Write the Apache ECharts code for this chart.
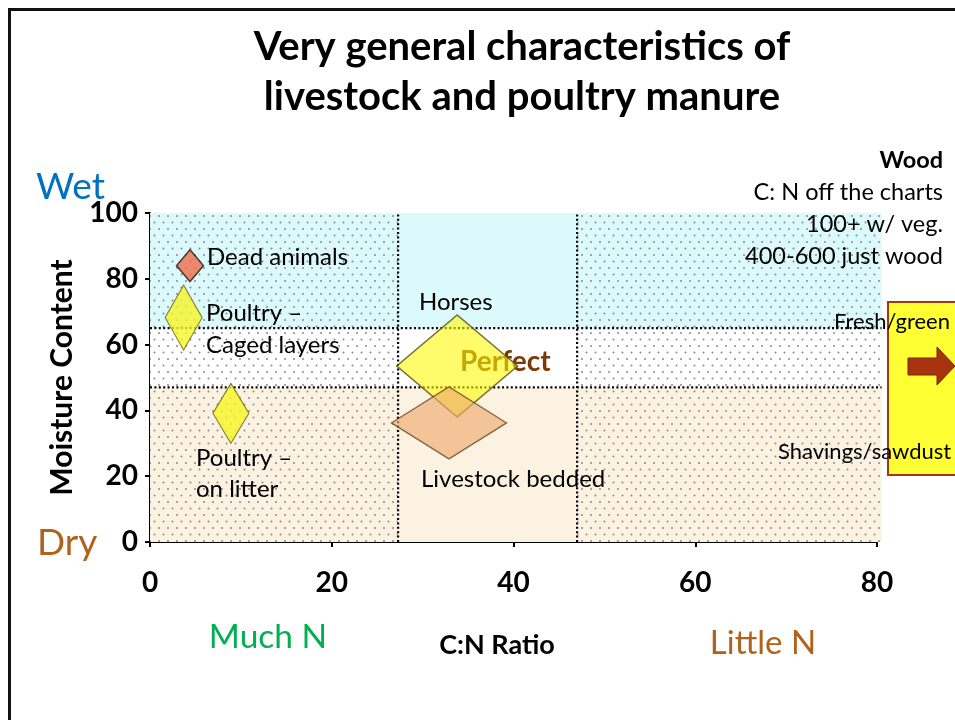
<!DOCTYPE html>
<html><head><meta charset="utf-8">
<script src="https://cdn.jsdelivr.net/npm/echarts@6/dist/echarts.min.js"></script>
<style>html,body{margin:0;padding:0;background:#fff}#c{width:955px;height:720px}</style>
</head><body><div id="c"></div>
<script>
// ---------- data ----------
const sources = ['Dead animals', 'Poultry – caged layers', 'Poultry – on litter', 'Horses', 'Livestock bedded'];
const cnRatio = [4.4, 3.7, 8.9, 33.8, 32.9];
const moisture = [84.0, 68.2, 39.1, 53.5, 36.2];
const xTicks = [0, 20, 40, 60, 80];
const yTicks = [0, 20, 40, 60, 80, 100];
const cnBreaks = [0, 27.3, 47, 80.5];
const moistureBreaks = [0, 47, 65, 100];

// ---------- styles ----------
const FONT = 'Lato';
const markerSizes = [[27, 32], [37, 65], [36, 60], [121, 102], [115, 72]];
const markerStyles = [
  { color: '#EF6B4A', borderColor: '#1a1a1a', borderWidth: 1.5 },
  { color: '#F7F526', borderColor: '#6b6a1c', borderWidth: 1.2 },
  { color: '#F7F526', borderColor: '#6b6a1c', borderWidth: 1.2 },
  { color: 'rgba(255,250,0,0.72)', borderColor: '#55541c', borderWidth: 1.5 },
  { color: 'rgba(237,170,110,0.8)', borderColor: '#6b4a2a', borderWidth: 1.5 }
];
const rowColors = ['#FCF2E1', '#FFFFFF', '#DCF9FC'];

function makePattern(bg) {
  const c = document.createElement('canvas');
  c.width = 9; c.height = 13;
  const g = c.getContext('2d');
  g.fillStyle = bg; g.fillRect(0, 0, 9, 13);
  g.fillStyle = '#8a8a8a';
  g.beginPath(); g.arc(1.5, 1.5, 1.0, 0, Math.PI * 2); g.fill();
  g.beginPath(); g.arc(6, 8, 1.0, 0, Math.PI * 2); g.fill();
  return c;
}
const patterns = rowColors.map(c => ({ image: makePattern(c), repeat: 'repeat' }));

// cells built from breaks
const cells = [];
for (let r = 0; r < moistureBreaks.length - 1; r++) {
  for (let c = 0; c < cnBreaks.length - 1; c++) {
    cells.push([cnBreaks[c], cnBreaks[c + 1], moistureBreaks[r], moistureBreaks[r + 1], r, c]);
  }
}
const divLines = [];
for (let i = 1; i < cnBreaks.length - 1; i++) divLines.push([cnBreaks[i], moistureBreaks[0], cnBreaks[i], moistureBreaks[moistureBreaks.length - 1]]);
for (let i = 1; i < moistureBreaks.length - 1; i++) divLines.push([cnBreaks[0], moistureBreaks[i], cnBreaks[cnBreaks.length - 1], moistureBreaks[i]]);

function txt(text, x, y, size, opts) {
  opts = opts || {};
  return {
    type: 'text', z: opts.z != null ? opts.z : 10,
    style: {
      text: text, x: x, y: y,
      font: (opts.bold ? 'bold ' : '') + size + 'px ' + FONT,
      fill: opts.color || '#000',
      align: opts.align || 'left', textAlign: opts.align || 'left',
      verticalAlign: 'middle', textVerticalAlign: 'middle'
    }
  };
}

const chart = echarts.init(document.getElementById('c'));
chart.setOption({
  animation: false,
  backgroundColor: '#fff',
  grid: { left: 150, top: 213, width: 727, height: 329, containLabel: false, outerBoundsMode: 'none' },
  xAxis: {
    type: 'value', min: xTicks[0], max: xTicks[xTicks.length - 1], interval: 20,
    axisLine: { show: true, onZero: false, lineStyle: { color: '#000', width: 2 } },
    axisTick: { show: true, length: 5, lineStyle: { color: '#000', width: 2 } },
    splitLine: { show: false },
    axisLabel: { fontFamily: FONT, fontWeight: 'bold', fontSize: 28, color: '#000', margin: 27 }
  },
  yAxis: {
    type: 'value', min: yTicks[0], max: yTicks[yTicks.length - 1], interval: 20,
    name: 'Moisture Content', nameLocation: 'middle', nameGap: 73,
    nameTextStyle: { fontFamily: FONT, fontWeight: 'bold', fontSize: 30, color: '#000' },
    axisLine: { show: true, onZero: false, lineStyle: { color: '#000', width: 2 } },
    axisTick: { show: true, length: 5, lineStyle: { color: '#000', width: 2 } },
    splitLine: { show: false },
    axisLabel: { fontFamily: FONT, fontWeight: 'bold', fontSize: 28, color: '#000', margin: 12 }
  },
  series: [
    {
      type: 'custom', z: 1, silent: true,
      data: cells,
      encode: { x: [0, 1], y: [2, 3] },
      renderItem: function (params, api) {
        const a = api.coord([api.value(0), api.value(3)]);
        const b = api.coord([api.value(1), api.value(2)]);
        const r = api.value(4), c = api.value(5);
        return { type: 'rect', shape: { x: a[0], y: a[1], width: b[0] - a[0], height: b[1] - a[1] },
          style: { fill: c === 1 ? rowColors[r] : patterns[r] } };
      }
    },
    {
      type: 'custom', z: 2, silent: true,
      data: divLines,
      encode: { x: [0, 2], y: [1, 3] },
      renderItem: function (params, api) {
        const a = api.coord([api.value(0), api.value(1)]);
        const b = api.coord([api.value(2), api.value(3)]);
        return { type: 'line', shape: { x1: a[0], y1: a[1], x2: b[0], y2: b[1] },
          style: { stroke: '#000', lineWidth: 2.2, lineDash: [2, 2.4] } };
      }
    },
    {
      type: 'scatter', z: 4, symbol: 'diamond',
      data: sources.map((n, i) => ({ name: n, value: [cnRatio[i], moisture[i]], symbolSize: markerSizes[i], itemStyle: markerStyles[i] }))
    }
  ],
  graphic: [
    { type: 'polyline', z: 10, shape: { points: [[9.5, 720], [9.5, 9.5], [955, 9.5]] }, style: { stroke: '#111', lineWidth: 3, fill: null } },
    txt('Very general characteristics of', 522, 47, 40, { bold: true, align: 'center' }),
    txt('livestock and poultry manure', 522, 97, 40, { bold: true, align: 'center' }),
    txt('Wet', 36, 187, 37, { color: '#0070C0' }),
    txt('Dry', 37, 543, 37, { color: '#B0611B' }),
    txt('Much N', 268, 637, 33.5, { color: '#00B050', align: 'center' }),
    txt('C:N Ratio', 497, 645, 27, { bold: true, align: 'center' }),
    txt('Little N', 763, 643, 33, { color: '#B0611B', align: 'center' }),
    txt('Wood', 943, 160, 23.5, { bold: true, align: 'right' }),
    txt('C: N off the charts', 943, 192, 23.5, { align: 'right' }),
    txt('100+ w/ veg.', 943, 224, 23.5, { align: 'right' }),
    txt('400-600 just wood', 943, 256, 23.5, { align: 'right' }),
    txt('Dead animals', 207, 257, 24),
    txt('Poultry –', 206, 313, 24),
    txt('Caged layers', 206, 345, 24),
    txt('Horses', 419, 302, 24),
    txt('Perfect', 460, 362, 28, { bold: true, color: '#7A3A08', z: 3 }),
    txt('Livestock bedded', 421, 479, 24),
    txt('Poultry –', 196, 458, 24),
    txt('on litter', 196, 489, 24),
    { type: 'rect', z: 8, shape: { x: 888, y: 302, width: 80, height: 173 }, style: { fill: '#FFFF33', stroke: '#9C3A10', lineWidth: 2 } },
    { type: 'polygon', z: 9, shape: { points: [[908, 358], [937, 358], [937, 347], [955, 366], [937, 385], [937, 375], [908, 375]] }, style: { fill: '#A8340F', stroke: '#7a2508', lineWidth: 1 } },
    txt('Fresh/green', 834, 322, 22),
    txt('Shavings/sawdust', 778, 452, 22)
  ]
});
</script>
</body></html>
